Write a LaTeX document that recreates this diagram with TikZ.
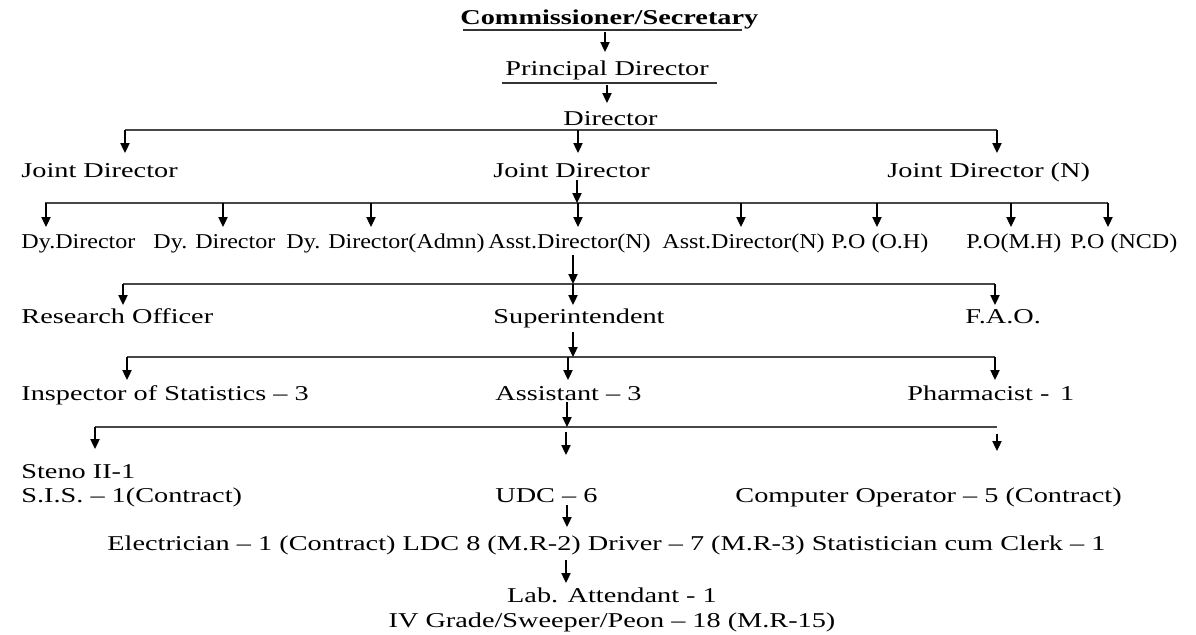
\documentclass[tikz,border=0pt]{standalone}
\usepackage{fontspec}
\setmainfont{Liberation Serif}[FakeStretch=1.34]
\newfontfamily\dyfont{Liberation Serif}[FakeStretch=1.14]
\usetikzlibrary{arrows.meta}

\begin{document}
\begin{tikzpicture}[x=0.5pt,y=-0.5pt,
  lbl/.style={anchor=base west, inner sep=0pt, font=\fontsize{10.55pt}{12pt}\selectfont},
  clbl/.style={lbl, anchor=base},
  dylbl/.style={lbl, font=\fontsize{10.55pt}{12pt}\dyfont},
  bus/.style={draw=black!72, line width=0.9pt},
  uline/.style={draw=black!80, line width=0.7pt},
  arr/.style={draw=black, line width=0.8pt, -{Triangle[length=5pt,width=4.6pt]}}]
\useasboundingbox (0,0) rectangle (1196,634);

% ---- top of the hierarchy ----
\node[lbl, font=\fontsize{10.55pt}{12pt}\selectfont\bfseries] (comm) at (460,24) {Commissioner/Secretary};
\node[lbl] (pdir) at (505,75) {Principal Director};
\node[lbl] (dir)  at (563,125) {Director};
\draw[uline] (comm.base west) ++(3,6) -- ++(279,0);
\draw[uline] (pdir.base west) ++(-3,8) -- ++(215,0);

% ---- joint directors ----
\node[lbl] (jd1) at (21,177)  {Joint Director};
\node[lbl] (jd2) at (493,177) {Joint Director};
\node[lbl] (jd3) at (887,177) {Joint Director (N)};

% ---- deputy / assistant directors and programme officers ----
\node[dylbl] (dy1) at (21,248)   {Dy.Director};
\node[dylbl] (dy2) at (153,248)  {Dy. Director};
\node[dylbl] (dy3) at (286,248)  {Dy. Director(Admn)};
\node[dylbl] (ad1) at (488,248)  {Asst.Director(N)};
\node[dylbl] (ad2) at (662,248)  {Asst.Director(N)};
\node[dylbl] (po1) at (831,248)  {P.O (O.H)};
\node[dylbl] (po2) at (966,248)  {P.O(M.H)};
\node[dylbl] (po3) at (1070,248) {P.O (NCD)};

% ---- officers ----
\node[lbl] (ro)  at (21,323)  {Research Officer};
\node[lbl] (sup) at (493,323) {Superintendent};
\node[lbl] (fao) at (965,323) {F.A.O.};

\node[lbl] (ins) at (21,400)  {Inspector of Statistics – 3};
\node[lbl] (ast) at (495,400) {Assistant – 3};
\node[lbl] (pha) at (907,400) {Pharmacist -\, 1};

% ---- staff ----
\node[lbl] (steno) at (21,478) {Steno II-1};
\node[lbl] (sis)   at (21,502) {S.I.S. – 1(Contract)};
\node[lbl] (udc)   at (495,502) {UDC – 6};
\node[lbl] (cop)   at (735,502) {Computer Operator – 5 (Contract)};
\node[lbl] (ele)   at (107,550) {Electrician – 1 (Contract) LDC 8 (M.R-2) Driver – 7 (M.R-3) Statistician cum Clerk – 1};
\node[clbl] (lab)  at (612,602) {Lab. Attendant - 1};
\node[clbl] (grd)  at (612,627) {IV Grade/Sweeper/Peon – 18 (M.R-15)};

% ---- bus lines ----
\coordinate (b1w) at (125,130);  \coordinate (b1e) at (997,130);
\coordinate (b2w) at (45,203);   \coordinate (b2e) at (1108,203);
\coordinate (b3w) at (123,284);  \coordinate (b3e) at (995,284);
\coordinate (b4w) at (127,357);  \coordinate (b4e) at (995,357);
\coordinate (b5w) at (95,427);   \coordinate (b5e) at (997,427);
\foreach \k in {1,...,5} \draw[bus] (b\k w) -- (b\k e);

% ---- arrow end points: name / x / start y / end y ----
\foreach \nm/\x/\ya/\yb in {
    cp/605/32/52, pd/607/85/103,
    ja/125/130/153, jb/578/130/153, jc/997/130/153,
    jm/577/180/203,
    da/46/203/227, db/223/203/227, dc/371/203/227, dd/578/203/227,
    de/741/203/227, df/877/203/227, dg/1011/203/227, dh/1108/203/227,
    am/573/255/284,
    ra/123/284/305, rb/573/284/305, rc/995/284/305,
    sm/573/332/357,
    ia/127/357/380, ib/568/357/380, ic/995/357/380,
    tm/567/402/427,
    sa/95/427/449, sb/566/432/455, sc/997/434/451,
    um/567/505/527,
    em/566/560/583}
  {\coordinate (\nm-s) at (\x,\ya); \coordinate (\nm-e) at (\x,\yb);}

\foreach \nm in {cp,pd,ja,jb,jc,jm,da,db,dc,dd,de,df,dg,dh,am,ra,rb,rc,
                 sm,ia,ib,ic,tm,sa,sb,sc,um,em}
  \draw[arr] (\nm-s) -- (\nm-e);
\end{tikzpicture}
\end{document}
